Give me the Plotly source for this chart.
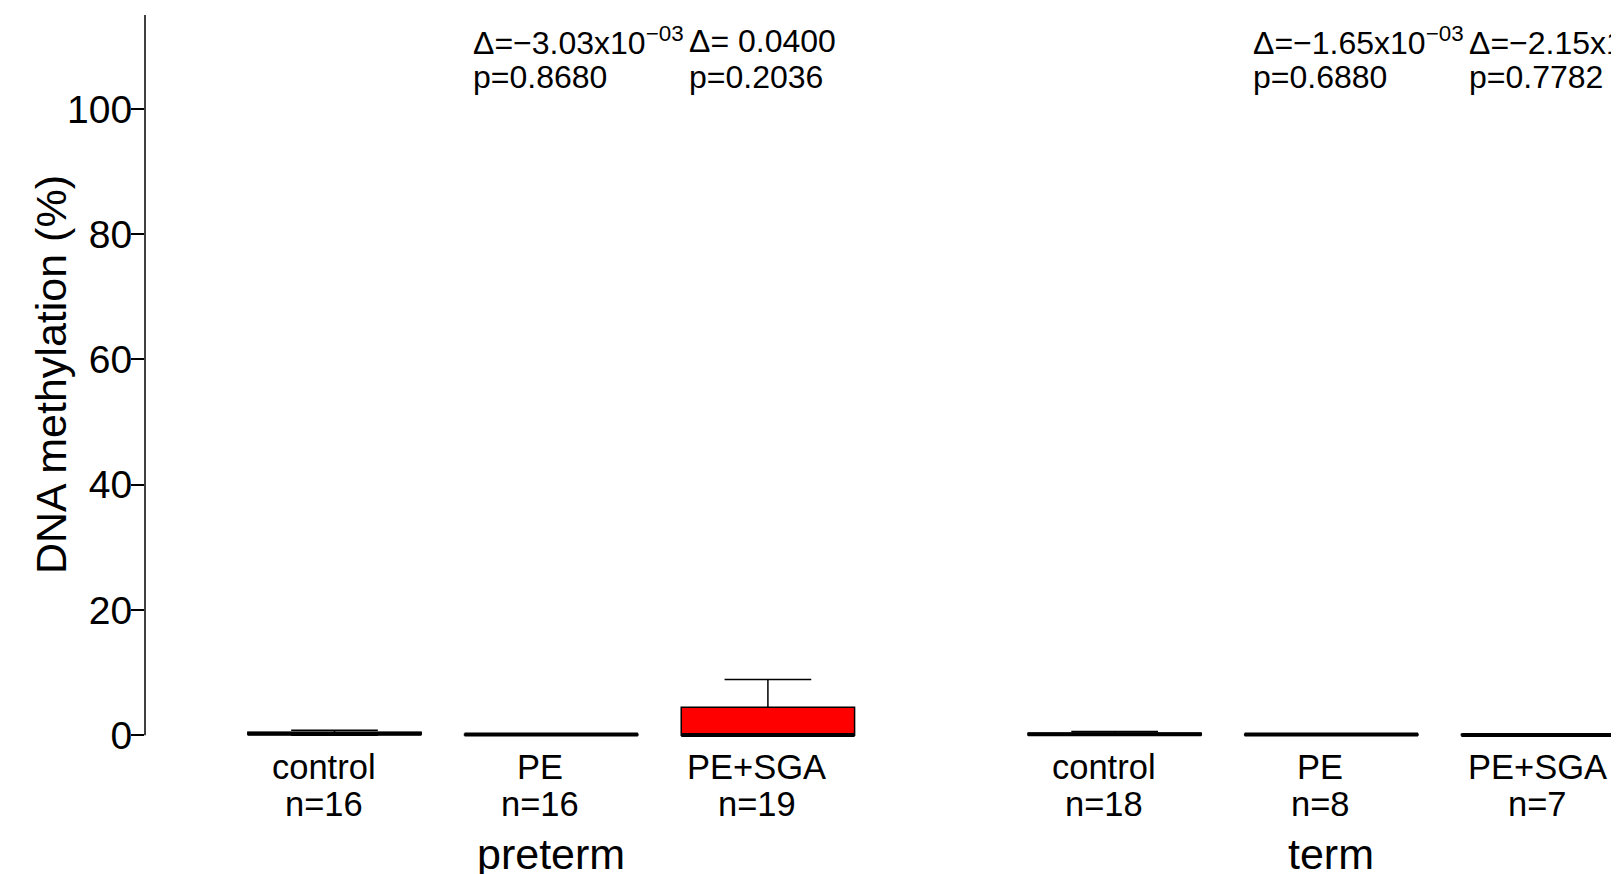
import plotly.graph_objects as go

# ---- data ----
group_names = ["preterm", "term"]
group_centers = [2, 5.6]
categories = ["control", "PE", "PE+SGA", "control", "PE", "PE+SGA"]
n_labels = ["n=16", "n=16", "n=19", "n=18", "n=8", "n=7"]
positions = [1, 2, 3, 4.6, 5.6, 6.6]
lower = [0.0, 0.0, 0.0, 0.0, 0.0, 0.0]
q1 = [0.1, 0.05, 0.0, 0.05, 0.05, 0.02]
median = [0.25, 0.1, 0.05, 0.15, 0.1, 0.05]
q3 = [0.45, 0.15, 4.45, 0.3, 0.15, 0.1]
upper = [0.8, 0.2, 8.9, 0.6, 0.2, 0.1]
fill_colors = ["white", "white", "red", "white", "white", "white"]
delta_labels = [None, "Δ=−3.03x10<sup>−03</sup>", "Δ= 0.0400", None,
                "Δ=−1.65x10<sup>−03</sup>", "Δ=−2.15x10<sup>−03</sup>"]
p_labels = [None, "p=0.8680", "p=0.2036", None, "p=0.6880", "p=0.7782"]
y_ticks = [0, 20, 40, 60, 80, 100]
y_title = "DNA methylation (%)"

FONT = "Liberation Sans, Arial, sans-serif"
BOX_W = 0.8

fig = go.Figure()
for i, pos in enumerate(positions):
    fig.add_trace(go.Box(
        x=[pos], q1=[q1[i]], median=[median[i]], q3=[q3[i]],
        lowerfence=[lower[i]], upperfence=[upper[i]],
        width=BOX_W, whiskerwidth=0.5, fillcolor=fill_colors[i],
        line=dict(color="black", width=1.5), boxpoints=False,
        showlegend=False, hoverinfo="skip",
    ))
    # thick median line (R style)
    fig.add_trace(go.Scatter(
        x=[pos - BOX_W / 2, pos + BOX_W / 2], y=[median[i], median[i]],
        mode="lines", line=dict(color="black", width=4),
        showlegend=False, hoverinfo="skip",
    ))

annotations = []
for i, pos in enumerate(positions):
    annotations.append(dict(x=pos, y=0, xref="x", yref="y", text=categories[i],
                            showarrow=False, xanchor="center", yanchor="middle",
                            xshift=-11, yshift=-31.7,
                            font=dict(size=34.5, color="black", family=FONT)))
    annotations.append(dict(x=pos, y=0, xref="x", yref="y", text=n_labels[i],
                            showarrow=False, xanchor="center", yanchor="middle",
                            xshift=-11, yshift=-68.6,
                            font=dict(size=34.5, color="black", family=FONT)))
    if delta_labels[i]:
        annotations.append(dict(x=pos - BOX_W / 2, y=110.9, xref="x", yref="y",
                                text=delta_labels[i], showarrow=False,
                                xanchor="left", yanchor="middle", xshift=6,
                                font=dict(size=32, color="black", family=FONT)))
        annotations.append(dict(x=pos - BOX_W / 2, y=105.1, xref="x", yref="y",
                                text=p_labels[i], showarrow=False,
                                xanchor="left", yanchor="middle", xshift=6,
                                font=dict(size=32, color="black", family=FONT)))
for g, c in zip(group_names, group_centers):
    annotations.append(dict(x=c, y=0, xref="x", yref="y", text=g, showarrow=False,
                            xanchor="center", yanchor="middle", yshift=-118.6,
                            font=dict(size=43, color="black", family=FONT)))
annotations.append(dict(x=0, y=57.5, xref="paper", yref="y", text=y_title,
                        showarrow=False, textangle=-90, xanchor="center",
                        yanchor="middle", xshift=-94,
                        font=dict(size=43, color="black", family=FONT)))

fig.update_layout(
    width=1611, height=866,
    margin=dict(l=137, r=0, t=7, b=110, pad=0),
    paper_bgcolor="white", plot_bgcolor="white",
    font=dict(family=FONT, color="black"),
    annotations=annotations,
    shapes=[dict(type="line", xref="paper", yref="y", x0=0, x1=0, y0=0, y1=115,
                 line=dict(color="black", width=1.5))],
    xaxis=dict(range=[0.1255, 6.9275], showgrid=False, zeroline=False,
               showline=False, showticklabels=False, ticks=""),
    yaxis=dict(range=[-4.6, 115], tickvals=y_ticks, ticktext=[str(t) for t in y_ticks],
               ticks="outside", ticklen=13, tickwidth=1.5, tickcolor="black",
               ticklabelstandoff=-9,
               showgrid=False, zeroline=False, showline=False,
               tickfont=dict(size=39, color="black", family=FONT)),
)

fig.write_html("out.html")
